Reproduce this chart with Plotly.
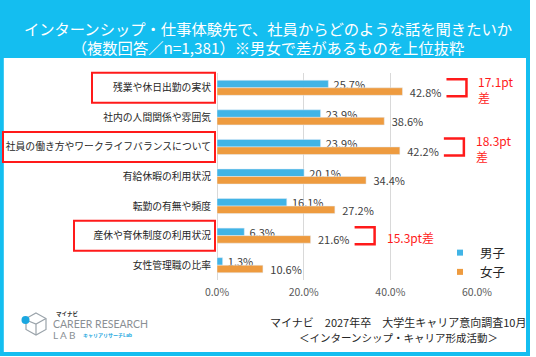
import plotly.graph_objects as go

# ---------------- data ----------------
categories = [
    "残業や休日出勤の実状",
    "社内の人間関係や雰囲気",
    "社員の働き方やワークライフバランスについて",
    "有給休暇の利用状況",
    "転勤の有無や頻度",
    "産休や育休制度の利用状況",
    "女性管理職の比率",
]
male = [25.7, 23.9, 23.9, 20.1, 16.1, 6.3, 1.3]
female = [42.8, 38.6, 42.2, 34.4, 27.2, 21.6, 10.6]
series_names = ["男子", "女子"]
x_tick_vals = [0, 20, 40, 60]
x_tick_text = ["0.0%", "20.0%", "40.0%", "60.0%"]
highlight_rows = [0, 2, 5]
diff_rows = [0, 2, 5]
diff_labels = ["17.1pt<br>差", "18.3pt<br>差", "15.3pt差"]

title_text = ("インターンシップ・仕事体験先で、社員からどのような話を聞きたいか<br>"
              "（複数回答／n=1,381）※男女で差があるものを上位抜粋")
source_line1 = "マイナビ　2027年卒　大学生キャリア意向調査10月"
source_line2 = "＜インターンシップ・キャリア形成活動＞"

# ---------------- styling ----------------
W, H = 536, 357
L, R, T, B = 217, 477, 73, 280
FRAME = "#14BEF0"
BLUE = "#41B4E6"
ORANGE = "#EE9B3F"
RED = "#FF1A1A"
FONT = "Noto Sans CJK JP, Noto Sans, sans-serif"

def px(x):
    return (x - L) / (R - L)

def py(y):
    return (B - y) / (B - T)

slot = (B - T) / len(categories)

def rowc(i):
    return T + (i + 0.5) * slot

def xval_px(v):
    return L + v / 60 * (R - L)

fig = go.Figure()
fig.add_trace(go.Bar(
    y=categories, x=male, orientation="h", name=series_names[0],
    marker=dict(color=BLUE), text=[f"\u2009{v:.1f}%" for v in male],
    textposition="outside", cliponaxis=False, constraintext="none",
    textfont=dict(size=11, color="#404040", family=FONT), showlegend=False,
))
fig.add_trace(go.Bar(
    y=categories, x=female, orientation="h", name=series_names[1],
    marker=dict(color=ORANGE), text=[f"\u2009\u2009{v:.1f}%" for v in female],
    textposition="outside", cliponaxis=False, constraintext="none",
    textfont=dict(size=11, color="#404040", family=FONT), showlegend=False,
))
# legend entries (small square swatches)
for nm, col in zip(series_names, [BLUE, ORANGE]):
    fig.add_trace(go.Scatter(
        x=[None], y=[None], mode="markers", name=nm,
        marker=dict(symbol="square", size=6, color=col), showlegend=True,
    ))

shapes = []
annotations = []

# outer frame and title band
shapes.append(dict(type="rect", xref="paper", yref="paper",
                   x0=px(0), x1=px(530), y0=py(0), y1=py(58),
                   fillcolor=FRAME, line=dict(width=0), layer="below"))
shapes.append(dict(type="rect", xref="paper", yref="paper",
                   x0=px(1.8), x1=px(528), y0=py(1), y1=py(354),
                   line=dict(color=FRAME, width=4)))

# red highlight boxes around labels
box_left = {0: 92, 2: 3, 5: 74}
for i in highlight_rows:
    shapes.append(dict(type="rect", xref="paper", yref="paper",
                       x0=px(box_left[i]), x1=px(215),
                       y0=py(rowc(i) - 15), y1=py(rowc(i) + 15),
                       line=dict(color=RED, width=2)))

# difference brackets and labels
for i, lab in zip(diff_rows, diff_labels):
    xl = xval_px(female[i]) + 44
    xr = xl + 20
    yt = rowc(i) - 8.5
    yb = rowc(i) + 8.5
    path = (f"M{px(xl)},{py(yt)} L{px(xr)},{py(yt)} "
            f"L{px(xr)},{py(yb)} L{px(xl)},{py(yb)}")
    shapes.append(dict(type="path", xref="paper", yref="paper", path=path,
                       line=dict(color=RED, width=2.5)))
    annotations.append(dict(xref="paper", yref="paper", x=px(xr + 10),
                            y=py(rowc(i) + 2), text=lab, showarrow=False,
                            xanchor="left", yanchor="middle", align="left",
                            font=dict(size=12, color=RED, family=FONT)))

# source text
annotations.append(dict(xref="paper", yref="paper", x=px(398), y=py(322),
                        text=source_line1, showarrow=False, xanchor="center",
                        yanchor="middle", font=dict(size=11, color="#262626", family=FONT)))
annotations.append(dict(xref="paper", yref="paper", x=px(398), y=py(337),
                        text=source_line2, showarrow=False, xanchor="center",
                        yanchor="middle", font=dict(size=10.5, color="#262626", family=FONT)))

# logo
hexpts = [(36, 313), (46, 318.5), (46, 329.5), (36, 335), (26, 329.5), (26, 318.5)]
hp = "M" + " L".join(f"{px(a)},{py(b)}" for a, b in hexpts) + " Z"
shapes.append(dict(type="path", xref="paper", yref="paper", path=hp,
                   line=dict(color="#9AA3AA", width=1.2)))
shapes.append(dict(type="path", xref="paper", yref="paper",
                   path=f"M{px(26)},{py(320)} L{px(36)},{py(324)} L{px(46)},{py(318.5)} "
                        f"M{px(36)},{py(324)} L{px(36)},{py(335)}",
                   line=dict(color="#9AA3AA", width=1.2)))
shapes.append(dict(type="circle", xref="paper", yref="paper",
                   x0=px(21.5), x1=px(29.5), y0=py(316), y1=py(324),
                   fillcolor="#1AA7E0", line=dict(width=0)))
annotations.append(dict(xref="paper", yref="paper", x=px(54), y=py(314),
                        text="<b>マイナビ</b>", showarrow=False, xanchor="left",
                        yanchor="middle", font=dict(size=5.5, color="#333", family=FONT)))
annotations.append(dict(xref="paper", yref="paper", x=px(51), y=py(324),
                        text="CAREER RESEARCH", showarrow=False, xanchor="left",
                        yanchor="middle", font=dict(size=10.5, color="#8A8F94", family="Lato")))
annotations.append(dict(xref="paper", yref="paper", x=px(51), y=py(334.5),
                        text="L A B", showarrow=False, xanchor="left",
                        yanchor="middle", font=dict(size=10, color="#8A8F94", family="Lato")))
annotations.append(dict(xref="paper", yref="paper", x=px(81), y=py(334.5),
                        text="<b>キャリアリサーチLab</b>", showarrow=False, xanchor="left",
                        yanchor="middle", font=dict(size=5, color="#1AA7E0", family=FONT)))

fig.update_layout(
    width=W, height=H,
    margin=dict(l=L, r=W - R, t=T, b=H - B, pad=0, autoexpand=False),
    paper_bgcolor="white", plot_bgcolor="white",
    barmode="group", bargap=0.49, bargroupgap=0,
    font=dict(family=FONT, color="#262626"),
    title=dict(text=title_text, x=0.5, xref="container", xanchor="center",
               y=1 - 34.5 / H, yref="container", yanchor="middle",
               font=dict(size=15.3, color="white", family=FONT)),
    legend=dict(x=px(440), y=py(238), xanchor="left", yanchor="top",
                font=dict(size=12.5, color="#262626", family=FONT),
                bgcolor="rgba(0,0,0,0)", itemclick=False, tracegroupgap=4),
    shapes=shapes, annotations=annotations,
)
fig.update_xaxes(range=[0, 60], tickvals=x_tick_vals, ticktext=x_tick_text,
                 showgrid=True, gridcolor="#D9D9D9", gridwidth=1,
                 zeroline=True, zerolinecolor="#D9D9D9", zerolinewidth=1,
                 showline=False, ticks="", ticklabelstandoff=4, automargin=False,
                 tickfont=dict(size=10.5, color="#595959", family=FONT),
                 fixedrange=True)
fig.update_yaxes(autorange="reversed", showgrid=False, showline=False, ticks="",
                 ticklabelstandoff=5, automargin=False,
                 tickfont=dict(size=9.8, color="#262626", family=FONT),
                 fixedrange=True)

fig.write_html("out.html", config=dict(displayModeBar=False),
               post_script="document.body.style.margin='0';document.body.style.padding='0';")
